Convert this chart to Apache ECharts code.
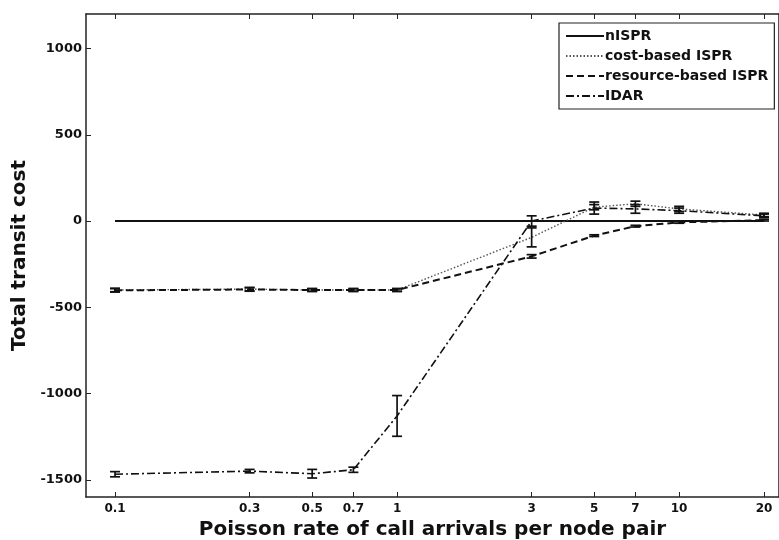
<!DOCTYPE html>
<html>
<head>
<meta charset="utf-8">
<script src="https://cdn.jsdelivr.net/npm/echarts@6/dist/echarts.min.js"></script>
<style>html,body{margin:0;padding:0;background:#fff}#c{width:779px;height:540px}</style>
</head>
<body>
<div id="c"></div>
<script>
const rates = [0.1, 0.3, 0.5, 0.7, 1, 3, 5, 7, 10, 20];
const nISPR = [0, 0, 0, 0, 0, 0, 0, 0, 0, 0];
const costISPR = [-400, -395, -400, -400, -400, -95, 80, 100, 70, 35];
const resourceISPR = [-402, -397, -400, -400, -400, -205, -85, -30, -8, 5];
const IDAR = [-1468, -1450, -1465, -1442, -1130, 0, 75, 70, 60, 30];
const costErr = [10, 10, 8, 8, 8, 55, 15, 15, 15, 10];
const resourceErr = [10, 10, 8, 8, 8, 10, 5, 5, 5, 5];
const idarErr = [15, 10, 25, 15, 118, 30, 35, 25, 15, 10];
const yTicks = [-1500, -1000, -500, 0, 500, 1000];

const FONT = '"DejaVu Sans", Verdana, sans-serif';
const pairs = (ys) => rates.map((x, i) => [x, ys[i]]);
const errData = (ys, es) => rates.map((x, i) => [x, ys[i] - es[i], ys[i] + es[i]]);

function errSeries(name, ys, es) {
  return {
    type: 'custom', name: name + ' err', silent: true, z: 5,
    data: errData(ys, es),
    encode: { x: 0, y: [1, 2] },
    renderItem: function (params, api) {
      const x = api.value(0);
      const lo = api.coord([x, api.value(1)]);
      const hi = api.coord([x, api.value(2)]);
      const w = 5;
      const st = { stroke: '#111', lineWidth: 1.7 };
      return {
        type: 'group',
        children: [
          { type: 'line', shape: { x1: lo[0], y1: lo[1], x2: hi[0], y2: hi[1] }, style: st },
          { type: 'line', shape: { x1: lo[0] - w, y1: lo[1], x2: lo[0] + w, y2: lo[1] }, style: st },
          { type: 'line', shape: { x1: hi[0] - w, y1: hi[1], x2: hi[0] + w, y2: hi[1] }, style: st }
        ]
      };
    }
  };
}

const xCommon = {
  type: 'log', logBase: 10, min: 0.0789, max: 22.6,
  axisLine: { show: true, onZero: false, lineStyle: { color: '#222', width: 1.5 } },
  axisTick: { show: true, inside: true, length: 5, customValues: rates, lineStyle: { color: '#222' } },
  minorTick: { show: false },
  splitLine: { show: false }
};
const yCommon = {
  type: 'value', min: -1600, max: 1200,
  axisLine: { show: true, lineStyle: { color: '#222', width: 1.5 } },
  axisTick: { show: true, inside: true, length: 5, customValues: yTicks, lineStyle: { color: '#222' } },
  splitLine: { show: false }
};

const chart = echarts.init(document.getElementById('c'));
chart.setOption({
  animation: false,
  backgroundColor: '#fff',
  grid: { left: 86, right: 0, top: 14, bottom: 43, containLabel: false, outerBoundsMode: 'none' },
  legend: {
    orient: 'vertical', left: 559, top: 23,
    backgroundColor: '#fff', borderColor: '#222', borderWidth: 1.2,
    padding: [6, 6, 6, 6], itemGap: 6, itemWidth: 38, itemHeight: 14,
    itemStyle: { opacity: 0 },
    textStyle: { fontFamily: FONT, fontWeight: 'bold', fontSize: 14, color: '#111', padding: [0, 0, 0, -4] },
    data: ['nISPR', 'cost-based ISPR', 'resource-based ISPR', 'IDAR']
  },
  xAxis: [
    Object.assign({}, xCommon, {
      position: 'bottom',
      name: 'Poisson rate of call arrivals per node pair',
      nameLocation: 'middle', nameGap: 16,
      nameTextStyle: { fontFamily: FONT, fontWeight: 'bold', fontSize: 20, color: '#111' },
      axisLabel: {
        customValues: rates, margin: 6, fontFamily: FONT, fontWeight: 'bold', fontSize: 12, color: '#111',
        formatter: (v) => String(+Number(v).toPrecision(3))
      }
    }),
    Object.assign({}, xCommon, { position: 'top', axisLabel: { show: false } })
  ],
  yAxis: [
    Object.assign({}, yCommon, {
      position: 'left',
      name: 'Total transit cost',
      nameLocation: 'middle', nameGap: 52,
      nameTextStyle: { fontFamily: FONT, fontWeight: 'bold', fontSize: 20, color: '#111' },
      axisLabel: {
        customValues: yTicks, margin: 4, fontFamily: FONT, fontWeight: 'bold', fontSize: 13, color: '#111',
        formatter: (v) => String(v)
      }
    }),
    Object.assign({}, yCommon, { position: 'right', axisTick: { show: false }, axisLabel: { show: false } })
  ],
  series: [
    { name: 'nISPR', type: 'line', data: pairs(nISPR), symbol: 'none', z: 3,
      lineStyle: { color: '#111', width: 1.8, type: 'solid' }, itemStyle: { color: '#111' } },
    { name: 'cost-based ISPR', type: 'line', data: pairs(costISPR), symbol: 'none', z: 3,
      lineStyle: { color: '#555', width: 1.4, type: [1.5, 2] }, itemStyle: { color: '#555' } },
    { name: 'resource-based ISPR', type: 'line', data: pairs(resourceISPR), symbol: 'none', z: 3,
      lineStyle: { color: '#111', width: 2, type: [7, 4] }, itemStyle: { color: '#111' } },
    { name: 'IDAR', type: 'line', data: pairs(IDAR), symbol: 'none', z: 3,
      lineStyle: { color: '#111', width: 1.6, type: [8, 3, 2, 3] }, itemStyle: { color: '#111' } },
    errSeries('cost-based ISPR', costISPR, costErr),
    errSeries('resource-based ISPR', resourceISPR, resourceErr),
    errSeries('IDAR', IDAR, idarErr)
  ]
});
</script>
</body>
</html>
